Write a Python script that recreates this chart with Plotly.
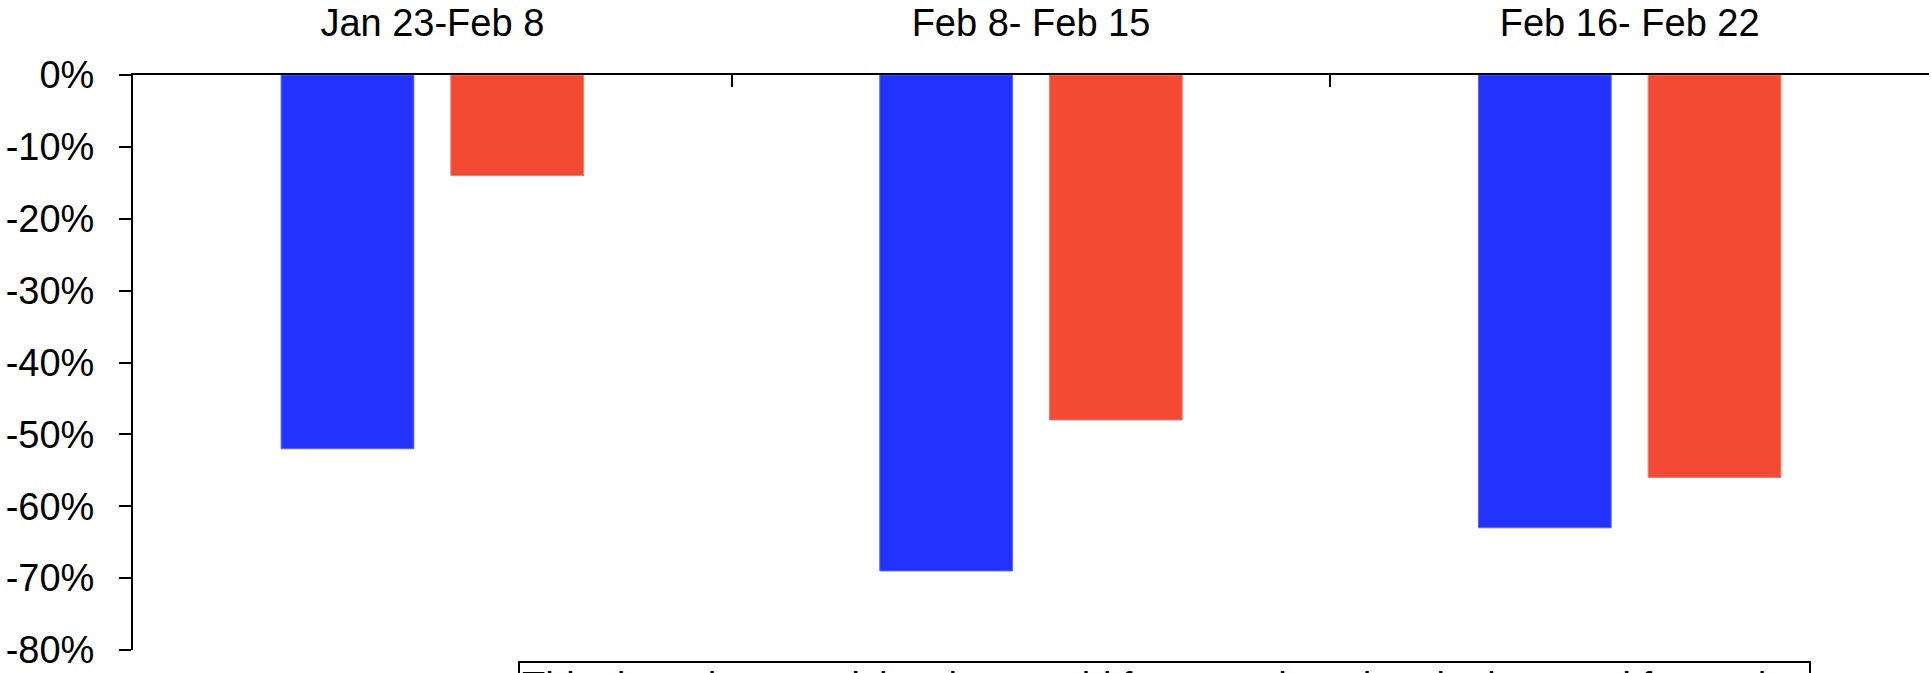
import plotly.graph_objects as go

categories = ["Jan 23-Feb 8", "Feb 8- Feb 15", "Feb 16- Feb 22"]
series_blue = [-52, -69, -63]
series_red = [-14, -48, -56]
y_tick_values = [0, -10, -20, -30, -40, -50, -60, -70, -80]
y_tick_labels = ["0%", "-10%", "-20%", "-30%", "-40%", "-50%", "-60%", "-70%", "-80%"]
note_text = "This data shows articles that would feature when the plot is sorted for each week"

FONT = "Liberation Sans"

fig = go.Figure()
fig.add_trace(go.Bar(x=categories, y=series_blue, name="Series 1",
                     marker=dict(color="#2233FF", line=dict(color="#5566FF", width=1))))
fig.add_trace(go.Bar(x=categories, y=series_red, name="Series 2",
                     marker=dict(color="#F24A33", line=dict(color="#F47A6A", width=1))))

fig.update_layout(
    width=1931, height=673,
    margin=dict(l=133, r=2, t=73, b=16),
    paper_bgcolor="white", plot_bgcolor="white",
    showlegend=False,
    barmode="group", bargap=0.433, bargroupgap=0.218,
    font=dict(family=FONT, size=38, color="black"),
    xaxis=dict(side="top", showline=True, linecolor="black", linewidth=2,
               ticks="inside", tickson="boundaries", ticklen=12, tickwidth=2,
               tickcolor="black", showgrid=False, ticklabelstandoff=22,
               tickfont=dict(family=FONT, size=38)),
    yaxis=dict(range=[-80, 0], tickvals=y_tick_values, ticktext=y_tick_labels,
               showline=True, linecolor="black", linewidth=2, ticks="outside",
               ticklen=12, tickwidth=2, tickcolor="black", showgrid=False,
               zeroline=False, ticklabelstandoff=17, ticklabeloverflow="allow",
               tickfont=dict(family=FONT, size=38)),
    annotations=[dict(
        text=note_text, xref="paper", yref="paper",
        x=(518 - 133) / 1796, y=(657 - 668) / 584,
        xanchor="left", yanchor="top", align="left",
        showarrow=False, width=1285,
        bordercolor="black", borderwidth=2, borderpad=2,
        font=dict(family=FONT, size=38, color="black"),
    )],
)

fig.write_html(
    "out.html",
    config={"displayModeBar": False},
    post_script="document.body.style.margin='0';document.body.style.overflow='hidden';",
)
